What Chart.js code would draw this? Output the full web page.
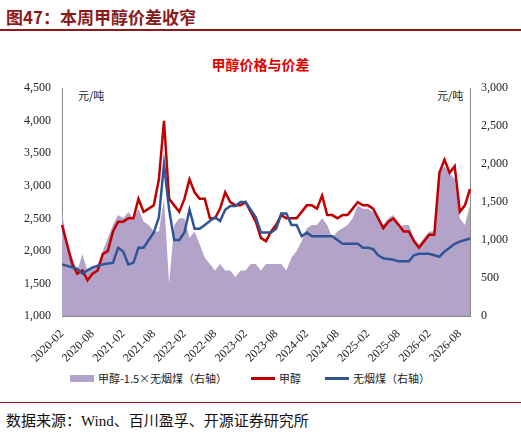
<!DOCTYPE html>
<html><head><meta charset="utf-8">
<script src="https://cdn.jsdelivr.net/npm/chart.js@4"></script>
<style>
body{margin:0;width:521px;height:438px;background:#fff;font-family:"Liberation Serif","Noto Sans CJK SC",serif;position:relative;overflow:hidden}
#t{position:absolute;left:6px;top:4px;font-size:17px;font-weight:bold;color:#8b1a1a;font-family:"Noto Sans CJK SC",sans-serif}
#tl{position:absolute;left:0;top:29px;width:521px;height:2px;background:#8b1a1a}
#ct{position:absolute;left:0;width:521px;top:54px;text-align:center;color:#e00000;font-weight:bold;font-size:14px;font-family:"Noto Sans CJK SC",sans-serif}
#c{position:absolute;left:0;top:78px;width:521px;height:290px}
.u{position:absolute;top:87px;font-size:11px;color:#222;font-family:"Noto Sans CJK SC",sans-serif}
#lg{position:absolute;top:370px;left:70px;font-size:11px;font-family:"Noto Sans CJK SC",sans-serif;color:#222;display:flex;gap:24px;align-items:center}
#lg span{display:inline-flex;align-items:center}
#src{position:absolute;left:6px;top:409px;font-size:15px;color:#111;font-family:"Liberation Serif","Noto Sans CJK SC",serif}
#bl{position:absolute;left:0;top:402px;width:521px;height:1px;background:#8b1a1a}
</style></head><body>
<div id="t">图47：本周甲醇价差收窄</div><div id="tl"></div>
<div id="ct">甲醇价格与价差</div>
<div class="u" style="left:78px">元/吨</div><div class="u" style="left:437px">元/吨</div>
<div id="c"><canvas id="cv" width="521" height="290"></canvas></div>
<div id="lg"><span><i style="display:inline-block;width:24px;height:7px;background:#b3a3c8;margin-right:4px"></i>甲醇-1.5×无烟煤（右轴）</span><span><i style="display:inline-block;width:24px;height:3px;background:#c00000;margin-right:4px"></i>甲醇</span><span><i style="display:inline-block;width:24px;height:3px;background:#2f5597;margin-right:4px"></i>无烟煤（右轴）</span></div>
<div id="bl"></div>
<div id="src">数据来源：Wind、百川盈孚、开源证券研究所</div>
<script>
const months=[];for(let y=2020;y<=2026;y++)for(let m=1;m<=12;m++){if(y===2020&&m<2)continue;if(y===2026&&m>10)continue;months.push(y+'-'+String(m).padStart(2,'0'));}
const methanol=[2400,2100,1800,1650,1700,1550,1650,1700,1950,2000,2300,
2450,2450,2500,2500,2800,2600,2650,2700,3100,4000,2800,2700,
2600,2800,3100,2900,2800,2800,2500,2500,2650,2900,2750,2700,
2700,2750,2600,2450,2200,2150,2300,2400,2550,2500,2500,2500,
2600,2700,2700,2650,2850,2550,2550,2500,2550,2550,2650,2750,
2700,2700,2650,2500,2350,2450,2500,2400,2300,2300,2150,2050,
2150,2250,2250,3200,3400,3200,3300,2600,2700,2950];
const coal=[680,660,640,620,560,600,640,660,680,690,700,
900,850,680,700,900,900,1000,1100,1300,2000,1400,1000,
1000,1100,1400,1150,1150,1200,1250,1300,1250,1400,1450,1450,
1500,1500,1400,1300,1100,1100,1100,1150,1350,1350,1200,1200,
1050,1100,1050,1050,1050,1050,1050,1000,950,950,950,950,
900,900,880,800,760,750,740,720,720,720,800,820,
820,820,800,780,850,900,950,980,1000,1020];
const spread=[1371,943,771,600,814,600,643,686,857,1029,1200,
1329,1286,1371,1286,1414,1243,1200,1114,1114,1543,429,1200,
1286,1286,1029,1114,943,771,686,600,686,600,600,514,
600,600,686,686,600,686,686,686,686,600,771,857,
986,1157,1200,1200,1286,1200,1029,1114,1157,1200,1286,1457,
1414,1414,1371,1286,1200,1286,1329,1157,1200,1200,1029,943,
1029,1114,1114,1886,1971,1886,1800,1286,1200,1457];
const F={family:"Liberation Serif",size:12};
new Chart(document.getElementById('cv'),{type:'line',data:{labels:months,datasets:[
{data:methanol,yAxisID:'y',borderColor:'#c00000',borderWidth:2.5,pointRadius:0,tension:0,order:1},
{data:coal,yAxisID:'y1',borderColor:'#2f5597',borderWidth:2.5,pointRadius:0,order:0},
{data:spread,yAxisID:'y1',borderColor:'#b3a3c8',borderWidth:0,backgroundColor:'#b3a3c8',fill:'origin',pointRadius:0,order:2}
]},options:{responsive:false,animation:false,layout:{padding:{top:5}},plugins:{legend:{display:false},tooltip:{enabled:false}},
scales:{x:{grid:{display:false,drawTicks:true},border:{color:'#888'},afterFit:s=>{s.height=52},ticks:{autoSkip:false,maxRotation:45,minRotation:45,color:'#222',font:F,callback:(v,i)=>i%6===0?months[i]:''}},
y:{position:'left',min:1000,max:4500,grid:{display:false},border:{color:'#888'},afterFit:s=>{s.width=62},ticks:{stepSize:500,color:'#222',font:F,callback:v=>v.toLocaleString('en-US')}},
y1:{position:'right',min:0,max:3000,grid:{display:false},border:{color:'#888'},afterFit:s=>{s.width=51},ticks:{stepSize:500,color:'#222',font:F,callback:v=>v.toLocaleString('en-US')}}}}});
</script></body></html>
